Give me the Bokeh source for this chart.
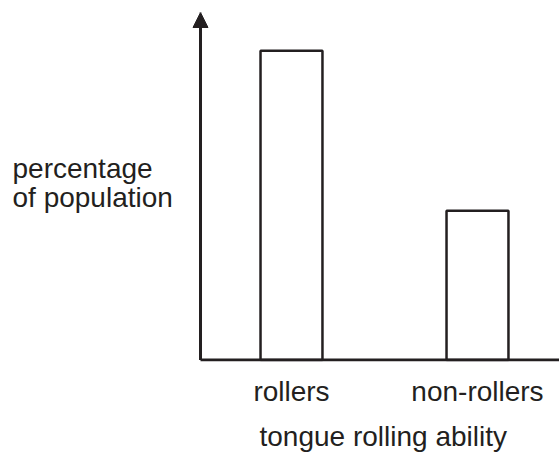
from bokeh.plotting import figure
from bokeh.models import Range1d, Arrow, NormalHead, FixedTicker, Label, Title
from bokeh.embed import file_html
from bokeh.resources import INLINE

categories = ["rollers", "non-rollers"]
positions = [1, 2]
percentages = [89, 43]
x_title = "tongue rolling ability"
y_title_lines = ["percentage", "of population"]

INK = "#231f20"
FONT = "Liberation Sans"
FS = "28px"

X_START, X_END = -0.5645, 2.4409
ORIGIN_X = 0.5108
Y_START, Y_END = -0.4, 100

p = figure(width=559, height=461, output_backend="svg", toolbar_location=None,
           x_range=Range1d(X_START, X_END), y_range=Range1d(Y_START, Y_END),
           min_border_left=0, min_border_right=0, min_border_top=12, min_border_bottom=100)
p.outline_line_color = None
p.xgrid.visible = False
p.ygrid.visible = False
p.yaxis.visible = False
p.background_fill_color = None

p.vbar(x=positions, top=percentages, bottom=0, width=0.333,
       fill_color="white", line_color=INK, line_width=2.5)

xa = p.xaxis[0]
xa.ticker = FixedTicker(ticks=positions)
xa.major_label_overrides = {pos: cat for pos, cat in zip(positions, categories)}
xa.major_tick_line_color = None
xa.minor_tick_line_color = None
xa.axis_line_color = None
xa.major_label_text_font = FONT
xa.major_label_text_font_size = FS
xa.major_label_text_color = INK
xa.major_label_standoff = 8

# x-axis title, under the plotting area to the right of the y-axis
p.add_layout(Title(text=x_title, align="left", offset=259, standoff=18,
                   text_font=FONT, text_font_size=FS, text_font_style="normal",
                   text_color=INK), "below")

# y-axis title, two left-aligned lines
for txt, yy in zip(y_title_lines, [55.1, 46.9]):
    p.add_layout(Label(x=X_START + 12 / 186, y=yy, text=txt, text_font=FONT,
                       text_font_size=FS, text_color=INK,
                       text_align="left", text_baseline="alphabetic"))

# axes drawn as arrows from the origin
p.add_layout(Arrow(x_start=ORIGIN_X, y_start=0, x_end=ORIGIN_X, y_end=Y_END,
                   line_width=3, line_color=INK,
                   end=NormalHead(size=15, fill_color=INK, line_color=INK, line_width=1)))
p.add_layout(Arrow(x_start=ORIGIN_X, y_start=0, x_end=X_END, y_end=0,
                   line_width=3, line_color=INK, end=None))

open("out.html", "w").write(file_html(p, INLINE))
